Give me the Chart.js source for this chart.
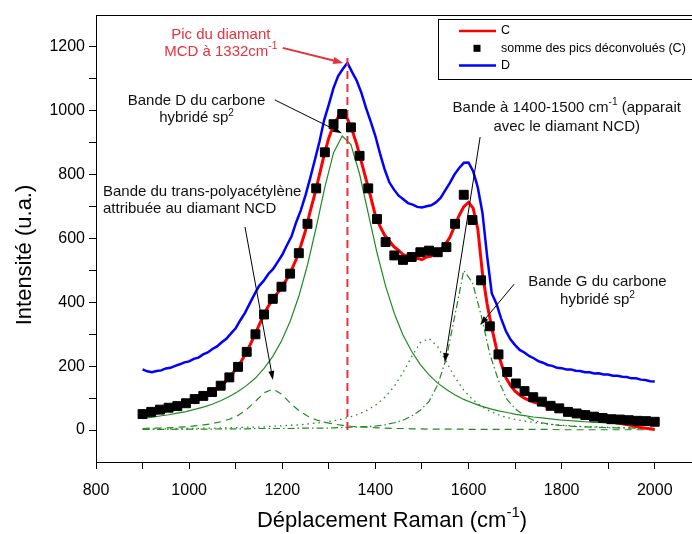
<!DOCTYPE html>
<html><head><meta charset="utf-8">
<script src="https://cdn.jsdelivr.net/npm/chart.js@4"></script>
<style>html,body{margin:0;padding:0;background:#fff}#wrap{width:692px;height:534px}</style>
</head><body><div id="wrap"><canvas id="c" width="692" height="534"></canvas></div>
<script>
// ---- data ----
const ramanShift = [900,910,920,930,940,950,960,970,980,990,1000,1010,1020,1030,1040,1050,1060,1070,1080,1090,1100,1110,1120,1130,1140,1150,1160,1170,1180,1190,1200,1210,1220,1230,1240,1250,1260,1270,1280,1290,1300,1310,1320,1330,1340,1350,1360,1370,1380,1390,1400,1410,1420,1430,1440,1450,1460,1470,1480,1490,1500,1510,1520,1530,1540,1550,1560,1570,1580,1590,1600,1610,1620,1630,1640,1650,1660,1670,1680,1690,1700,1710,1720,1730,1740,1750,1760,1770,1780,1790,1800,1810,1820,1830,1840,1850,1860,1870,1880,1890,1900,1910,1920,1930,1940,1950,1960,1970,1980,1990,2000];
const spectrumC = [43,46,49,53,56,60,64,68,73,78,84,91,98,104,111,119,128,140,154,171,190,210,236,264,295,328,360,388,410,430,450,473,502,535,578,625,685,740,800,862,915,955,980,988,975,940,895,840,785,730,672,638,610,592,574,563,549,544,537,538,534,542,545,555,564,581,604,638,672,700,713,695,630,490,395,320,255,210,165,140,122,110,100,93,88,83,78,73,68,64,61,58,54,51,48,46,42,39,36,33,29,26,23,20,17,14,11,8,6,4,2];
const spectrumD = [190,184,181,185,187,193,195,201,206,212,215,223,227,237,243,254,262,275,286,303,319,344,367,396,424,451,467,489,504,526,549,579,607,651,689,736,789,846,904,971,1019,1071,1109,1131,1150,1121,1094,1056,1008,966,921,866,816,776,753,734,723,711,706,699,697,701,704,713,727,751,774,801,821,837,838,811,760,680,545,428,396,350,311,284,266,251,243,232,225,216,211,204,201,195,194,190,190,186,185,181,181,177,178,174,174,170,170,167,166,162,162,158,157,153,152];
const fitShift = [900,918.6,937.3,955.9,974.6,993.2,1011.9,1030.5,1049.2,1067.8,1086.4,1105.1,1123.7,1142.4,1161,1179.7,1198.3,1216.9,1235.6,1254.2,1272.9,1291.5,1310.2,1328.8,1347.5,1366.1,1384.7,1403.4,1422,1440.7,1459.3,1478,1496.6,1515.3,1533.9,1552.5,1571.2,1589.8,1608.5,1627.1,1645.8,1664.4,1683,1701.7,1720.3,1739,1757.6,1776.3,1794.9,1813.6,1832.2,1850.8,1869.5,1888.1,1906.8,1925.4,1944.1,1962.7,1981.4,2000];
const fitSum = [50,57,64,70,75,84,97,107,119,139,165,198,245,300,362,411,449,490,554,646,757,870,958,990,948,859,757,661,589,547,533,542,557,562,557,573,646,737,658,469,325,237,182,146,122,103,89,76,68,57,52,47,42,38,34,33,31,29,28,26];
const bandD = [37,40,44,48,53,58,65,72,81,92,105,121,140,163,193,231,279,340,419,517,635,761,869,921,894,802,679,556,451,365,298,246,205,173,147,127,110,96,85,75,67,60,55,49,45,41,38,35,32,30,28,26,24,23,21,20,19,18,17,16];
const bandTPA = [5,6,6,7,9,10,13,16,20,26,34,46,65,90,117,128,113,85,61,44,32,24,19,15,12,10,9,7,6,5,5,4,4,3,3,3,3,3,2,2,2,2,2,2,2,2,2,2,1,1,1,1,1,1,1,1,1,1,1,1];
const band1450 = [4,4,4,4,5,5,5,6,6,7,7,8,9,9,10,12,13,15,16,19,22,25,29,35,42,51,64,81,105,137,180,230,274,287,261,213,164,125,96,75,59,48,39,33,28,24,21,18,16,14,12,11,10,9,8,8,7,6,6,6];
const bandG = [2,2,2,2,3,3,3,3,3,4,4,4,4,5,5,5,5,5,6,6,6,6,7,8,9,10,11,13,17,23,31,44,62,90,142,225,362,500,462,360,238,155,95,65,45,31,23,18,15,13,11,10,9,8,7,7,6,6,5,5];
const diamondLineX = [1340,1340];
const diamondLineY = [0,1175];
const xTickLabels = [800,1000,1200,1400,1600,1800,2000];
const yTickLabels = [0,200,400,600,800,1000,1200];

const FONT = '"Liberation Sans", Arial, sans-serif';
const RED_TXT = '#e5323c';
const GREEN = '#218a21';

function pts(xs, ys){ return xs.map((x,i)=>({x:x, y:ys[i]})); }

function richWidth(ctx, parts, size){
  let w=0;
  for(const p of parts){ ctx.font = (p[1]? size*0.68 : size)+'px '+FONT; w += ctx.measureText(p[0]).width; }
  return w;
}
function drawRich(ctx, parts, x, y, size, color, align){
  const w = richWidth(ctx, parts, size);
  let sx = align==='center' ? x - w/2 : (align==='right' ? x - w : x);
  ctx.fillStyle = color; ctx.textBaseline='middle'; ctx.textAlign='left';
  for(const p of parts){
    const s = p[1]? size*0.68 : size;
    ctx.font = s+'px '+FONT;
    ctx.fillText(p[0], sx, p[1] ? y - size*0.36 : y);
    sx += ctx.measureText(p[0]).width;
  }
}
function arrow(ctx, x1,y1,x2,y2,color,width,hl,hw){
  ctx.save();
  ctx.strokeStyle=color; ctx.fillStyle=color; ctx.lineWidth=width; ctx.setLineDash([]);
  const a = Math.atan2(y2-y1,x2-x1);
  ctx.beginPath(); ctx.moveTo(x1,y1); ctx.lineTo(x2 - Math.cos(a)*hl*0.8, y2 - Math.sin(a)*hl*0.8); ctx.stroke();
  ctx.beginPath();
  ctx.moveTo(x2,y2);
  ctx.lineTo(x2 - Math.cos(a)*hl + Math.sin(a)*hw, y2 - Math.sin(a)*hl - Math.cos(a)*hw);
  ctx.lineTo(x2 - Math.cos(a)*hl - Math.sin(a)*hw, y2 - Math.sin(a)*hl + Math.cos(a)*hw);
  ctx.closePath(); ctx.fill();
  ctx.restore();
}

// annotations anchored in data units
const notes = [
  {lines:[[['Pic du diamant']],[['MCD à 1332cm'],['-1',1]]], x:1068, y:[1237,1184], align:'center', color:RED_TXT,
   arrow:[1201,1197,1331,1150], acolor:RED_TXT, aw:2},
  {lines:[[['Bande D du carbone']],[['hybridé sp'],['2',1]]], x:1016, y:[1031,977], align:'center', color:'#111',
   arrow:[1184,1034,1328,930], acolor:'#000', aw:1},
  {lines:[[['Bande du trans-polyacétylène']],[['attribuée au diamant NCD']]], x:815, y:[746,692], align:'left', color:'#111',
   arrow:[1120,636,1180,157], acolor:'#000', aw:1},
  {lines:[[['Bande à 1400-1500 cm'],['-1',1],[' (apparait']],[['avec le diamant NCD)']]], x:1811, y:[1009,949], align:'center', color:'#111',
   arrow:[1625,918,1549,213], acolor:'#000', aw:1},
  {lines:[[['Bande G du carbone']],[['hybridé sp'],['2',1]]], x:1877, y:[464,407], align:'center', color:'#111',
   arrow:[1698,457,1625,329], acolor:'#000', aw:1}
];

const decor = {
  id:'decor',
  afterDraw(chart){
    const ctx = chart.ctx, xs = chart.scales.x, ys = chart.scales.y, ca = chart.chartArea;
    ctx.save();
    // top frame
    ctx.strokeStyle='#000'; ctx.lineWidth=1;
    ctx.beginPath(); ctx.moveTo(ca.left, ca.top+0.5); ctx.lineTo(chart.width, ca.top+0.5); ctx.stroke();
    // annotations
    for(const n of notes){
      n.lines.forEach((ln,i)=>{
        drawRich(ctx, ln, xs.getPixelForValue(n.x), ys.getPixelForValue(n.y[i]), 15, n.color, n.align);
      });
      const a=n.arrow;
      arrow(ctx, xs.getPixelForValue(a[0]), ys.getPixelForValue(a[1]), xs.getPixelForValue(a[2]), ys.getPixelForValue(a[3]), n.acolor, n.aw, n.aw>1?10:9, n.aw>1?3.5:3);
    }
    // legend
    const lx=438, ly=19;
    ctx.fillStyle='#fff'; ctx.fillRect(lx, ly, chart.width-lx, 60);
    ctx.strokeStyle='#000'; ctx.lineWidth=1;
    ctx.strokeRect(lx+0.5, ly+0.5, chart.width-lx+5, 60);
    const rows=[{t:'C',type:'line',c:'#ff0000'},{t:'somme des pics déconvolués (C)',type:'sq',c:'#000'},{t:'D',type:'line',c:'#0000ff'}];
    rows.forEach((r,i)=>{
      const y = ly+12+i*17.3;
      if(r.type==='line'){ ctx.strokeStyle=r.c; ctx.lineWidth=2.5; ctx.beginPath(); ctx.moveTo(459,y); ctx.lineTo(496,y); ctx.stroke(); }
      else { ctx.fillStyle='#000'; ctx.fillRect(473.5,y-3.5,7,7); }
      ctx.fillStyle='#000'; ctx.font='12.5px '+FONT; ctx.textBaseline='middle'; ctx.textAlign='left';
      ctx.fillText(r.t, 501, y);
    });
    // axis titles
    ctx.save();
    ctx.translate(25, 255); ctx.rotate(-Math.PI/2);
    drawRich(ctx, [['Intensité (u.a.)']], 0, 0, 22, '#000', 'center');
    ctx.restore();
    drawRich(ctx, [['Déplacement Raman (cm'],['-1',1],[')']], 392, 521, 22, '#000', 'center');
    ctx.restore();
  }
};

const chart = new Chart(document.getElementById('c'), {
  type:'scatter',
  data:{datasets:[
    {label:'somme des pics déconvolués (C)', data:pts(fitShift, fitSum), showLine:false, pointStyle:'rect', pointRadius:6.3, pointBackgroundColor:'#000', pointBorderColor:'#000', pointBorderWidth:1, order:0},
    {label:'diamond', data:pts(diamondLineX, diamondLineY), showLine:true, borderColor:RED_TXT, borderWidth:2, borderDash:[8,5], pointRadius:0, order:1},
    {label:'C', data:pts(ramanShift, spectrumC), showLine:true, borderColor:'#ff0000', borderWidth:3, pointRadius:0, order:2},
    {label:'D', data:pts(ramanShift, spectrumD), showLine:true, borderColor:'#0000ff', borderWidth:2.5, pointRadius:0, order:3},
    {label:'bande D', data:pts(fitShift, bandD), showLine:true, borderColor:GREEN, borderWidth:1.2, pointRadius:0, order:4},
    {label:'trans-PA', data:pts(fitShift, bandTPA), showLine:true, borderColor:GREEN, borderWidth:1.2, borderDash:[7,5], pointRadius:0, order:4},
    {label:'1400-1500', data:pts(fitShift, band1450), showLine:true, borderColor:GREEN, borderWidth:1.3, borderDash:[1.5,4], pointRadius:0, order:4},
    {label:'bande G', data:pts(fitShift, bandG), showLine:true, borderColor:GREEN, borderWidth:1.2, borderDash:[7,3,1.5,3], pointRadius:0, order:4}
  ]},
  options:{
    responsive:false, animation:false, devicePixelRatio:1,
    layout:{autoPadding:false, padding:{top:15,right:0,left:0,bottom:0}},
    plugins:{legend:{display:false}, tooltip:{enabled:false}},
    elements:{line:{tension:0}},
    scales:{
      x:{type:'linear', min:800, max:2080,
        afterFit(s){ s.height=72; s.paddingLeft=0; s.paddingRight=0; },
        border:{color:'#000', width:1},
        grid:{drawOnChartArea:false, tickLength:7, color:'#000', tickColor:'#000'},
        ticks:{stepSize:100, includeBounds:false, autoSkip:false, maxRotation:0, padding:12, color:'#000', font:{family:'Liberation Sans', size:16},
          callback:(v)=> xTickLabels.includes(v) ? String(v) : ''}
      },
      y:{type:'linear', min:-100, max:1300,
        afterFit(s){ s.width=96; s.paddingTop=0; s.paddingBottom=0; },
        border:{color:'#000', width:1},
        grid:{drawOnChartArea:false, tickLength:7, color:'#000', tickColor:(c)=> (c.tick && (c.tick.value===-100||c.tick.value===1300)) ? 'rgba(0,0,0,0)' : '#000'},
        ticks:{stepSize:100, autoSkip:false, padding:4, color:'#000', font:{family:'Liberation Sans', size:16},
          callback:(v)=> yTickLabels.includes(v) ? String(v) : ''}
      }
    }
  },
  plugins:[decor]
});
</script></body></html>
